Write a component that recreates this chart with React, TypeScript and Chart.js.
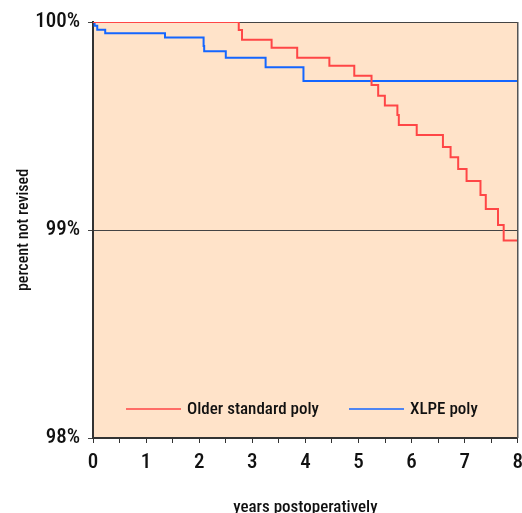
import { useEffect, useRef } from "react";
import { Chart, registerables } from "chart.js";

Chart.register(...registerables);

const SERIES_NAMES = ["Older standard poly", "XLPE poly"];
const SERIES_COLORS = ["#ff4646", "#1466ff"];

const OLD_YEARS = [0, 2.745, 2.807, 3.364, 3.846, 4.452, 4.921, 5.246, 5.371, 5.497, 5.733, 5.76, 6.097, 6.591, 6.735, 6.878, 7.036, 7.298, 7.398, 7.628, 7.735, 8];
const OLD_PCT = [100, 99.962, 99.915, 99.876, 99.828, 99.79, 99.742, 99.697, 99.646, 99.599, 99.553, 99.505, 99.457, 99.399, 99.35, 99.293, 99.236, 99.168, 99.101, 99.024, 98.949, 98.949];

const XLPE_YEARS = [0, 0.03, 0.08, 0.23, 1.356, 2.083, 2.094, 2.501, 3.251, 3.964, 8];
const XLPE_PCT = [100, 99.982, 99.963, 99.946, 99.925, 99.885, 99.859, 99.828, 99.782, 99.716, 99.716];

const X_MIN = 0;
const X_MAX = 8;
const Y_MIN = 98;
const Y_MAX = 100;
const X_TITLE = "years postoperatively";
const Y_TITLE = "percent not revised";

const FONT = "'Roboto Condensed', 'Liberation Sans Narrow', sans-serif";
const LEGEND_OFFSETS = [33, 256];

const decor = {
  id: "decor",
  beforeDraw(chart: any) {
    const { ctx, chartArea: a } = chart;
    ctx.save();
    ctx.fillStyle = "#ffe3c9";
    ctx.fillRect(a.left, a.top, a.right - a.left, a.bottom - a.top);
    ctx.restore();
  },
  afterDraw(chart: any) {
    const { ctx, chartArea: a } = chart;
    ctx.save();
    // right border
    ctx.strokeStyle = "#555";
    ctx.lineWidth = 1.5;
    ctx.beginPath();
    ctx.moveTo(a.right, a.top);
    ctx.lineTo(a.right, a.bottom);
    ctx.stroke();
    ctx.restore();

    // legend
    ctx.save();
    ctx.font = `500 17px ${FONT}`;
    ctx.textBaseline = "middle";
    ctx.textAlign = "left";
    const y = a.bottom - 29;
    chart.data.datasets.forEach((ds: any, i: number) => {
      const x = a.left + LEGEND_OFFSETS[i];
      ctx.strokeStyle = ds.borderColor;
      ctx.lineWidth = 1.5;
      ctx.beginPath();
      ctx.moveTo(x, y);
      ctx.lineTo(x + 55, y);
      ctx.stroke();
      ctx.fillStyle = "#111";
      ctx.fillText(ds.label, x + 61, y + 1);
    });
    ctx.restore();
  },
};

export default function App() {
  const ref = useRef<HTMLCanvasElement>(null);
  useEffect(() => {
    if (!ref.current) return;
    const toPts = (xs: number[], ys: number[]) => xs.map((x, i) => ({ x, y: ys[i] }));
    const chart = new Chart(ref.current, {
      type: "line",
      data: {
        datasets: [
          {
            label: SERIES_NAMES[0],
            data: toPts(OLD_YEARS, OLD_PCT),
            borderColor: SERIES_COLORS[0],
            borderWidth: 2,
            pointRadius: 0,
            stepped: "before",
            fill: false,
          },
          {
            label: SERIES_NAMES[1],
            data: toPts(XLPE_YEARS, XLPE_PCT),
            borderColor: SERIES_COLORS[1],
            borderWidth: 2,
            pointRadius: 0,
            stepped: "before",
            fill: false,
          },
        ],
      },
      options: {
        animation: false,
        responsive: false,
        devicePixelRatio: 1,
        layout: { padding: { top: 22, right: 11, left: 0, bottom: 0 } },
        plugins: { legend: { display: false }, tooltip: { enabled: false } },
        scales: {
          x: {
            type: "linear",
            min: X_MIN,
            max: X_MAX,
            afterFit: (s: any) => {
              s.height = 75;
            },
            ticks: {
              stepSize: 0.5,
              autoSkip: false,
              maxRotation: 0,
              padding: 7,
              color: "#111",
              font: { family: FONT, size: 21, weight: "500" },
              callback: (v: any) => (Number(v) % 1 === 0 ? String(v) : ""),
            },
            grid: { drawOnChartArea: false, tickLength: 5, color: "#333", lineWidth: 1 },
            border: { color: "#333", width: 2 },
            title: {
              display: true,
              text: X_TITLE,
              color: "#111",
              font: { family: FONT, size: 17, lineHeight: 1, weight: "500" },
              padding: { top: 0, bottom: -3 },
            },
          },
          y: {
            type: "linear",
            min: Y_MIN,
            max: Y_MAX,
            afterFit: (s: any) => {
              s.width = 93;
            },
            ticks: {
              stepSize: 1,
              padding: 8,
              color: "#111",
              font: { family: FONT, size: 21, weight: "500" },
              callback: (v: any) => `${v}%`,
            },
            grid: { tickLength: 5, color: "#444", lineWidth: 1 },
            border: { color: "#333", width: 2 },
            title: {
              display: true,
              text: Y_TITLE,
              color: "#111",
              font: { family: FONT, size: 16, lineHeight: 1, weight: "500" },
              padding: { top: 16, bottom: 0 },
            },
          },
        },
      },
      plugins: [decor],
    });
    return () => chart.destroy();
  }, []);
  return (
    <div style={{ position: "absolute", left: 0, top: 0, width: 522, height: 513, overflow: "hidden", background: "#fff" }}>
      <canvas ref={ref} width={530} height={513} />
    </div>
  );
}
